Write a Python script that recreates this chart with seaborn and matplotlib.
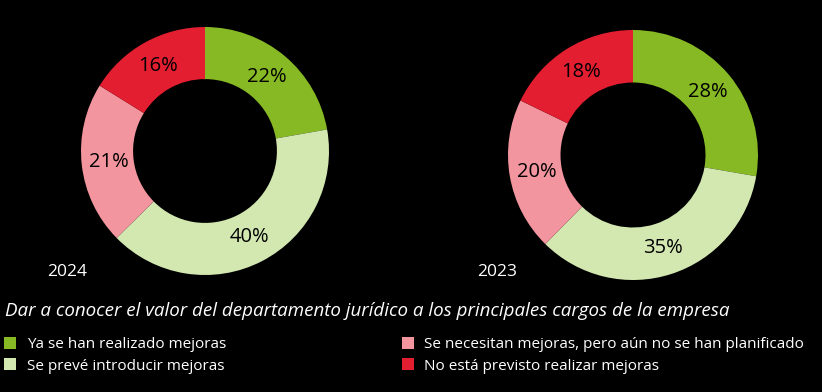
import seaborn as sns
import matplotlib.pyplot as plt
from matplotlib.patches import Patch

categorias = ["Ya se han realizado mejoras",
              "Se prevé introducir mejoras",
              "Se necesitan mejoras, pero aún no se han planificado",
              "No está previsto realizar mejoras"]
valores_2024 = [22, 40, 21, 16]
valores_2023 = [28, 35, 20, 18]
anios = ["2024", "2023"]
titulo = "Dar a conocer el valor del departamento jurídico a los principales cargos de la empresa"
colores = ["#86b923", "#d3e8b0", "#f2959e", "#e31e30"]

sns.set_theme(style="white")
plt.rcParams['font.family'] = ['Open Sans', 'DejaVu Sans']

W, H = 822, 392
fig = plt.figure(figsize=(W / 100, H / 100), dpi=100, facecolor="black")


def donut(vals, cx, cy, r, anio, lx):
    ax = fig.add_axes([(cx - r) / W, (H - cy - r) / H, 2 * r / W, 2 * r / H])
    ax.set_facecolor("black")
    ax.pie(vals, colors=colores, startangle=90, counterclock=False, radius=1,
           wedgeprops=dict(width=0.42, linewidth=0),
           autopct=lambda p: f"{p:.0f}%", pctdistance=0.78,
           textprops=dict(color="black", fontsize=14.5))
    ax.set_xlim(-1, 1)
    ax.set_ylim(-1, 1)
    ax.set_aspect("equal")
    ax.axis("off")
    fig.text(lx / W, 1 - 272 / H, anio, color="white", fontsize=12.5,
             va="center", ha="left")


donut(valores_2024, 205, 151, 124, anios[0], 47)
donut(valores_2023, 633, 155, 125, anios[1], 477)

fig.text(5 / W, 1 - 311 / H, titulo, color="white", fontsize=13.5,
         style="italic", va="center", ha="left")

handles = [Patch(facecolor=c, edgecolor="none") for c in colores]
leg = fig.legend(handles, categorias, ncol=2, loc="upper left",
                 bbox_to_anchor=(-0.003, 1 - 331 / H), frameon=False,
                 fontsize=11, labelcolor="white", handlelength=0.8,
                 handleheight=0.8, handletextpad=0.7, columnspacing=11.5,
                 labelspacing=0.4, borderaxespad=0)

fig.savefig("out.png", dpi=100, facecolor="black")
